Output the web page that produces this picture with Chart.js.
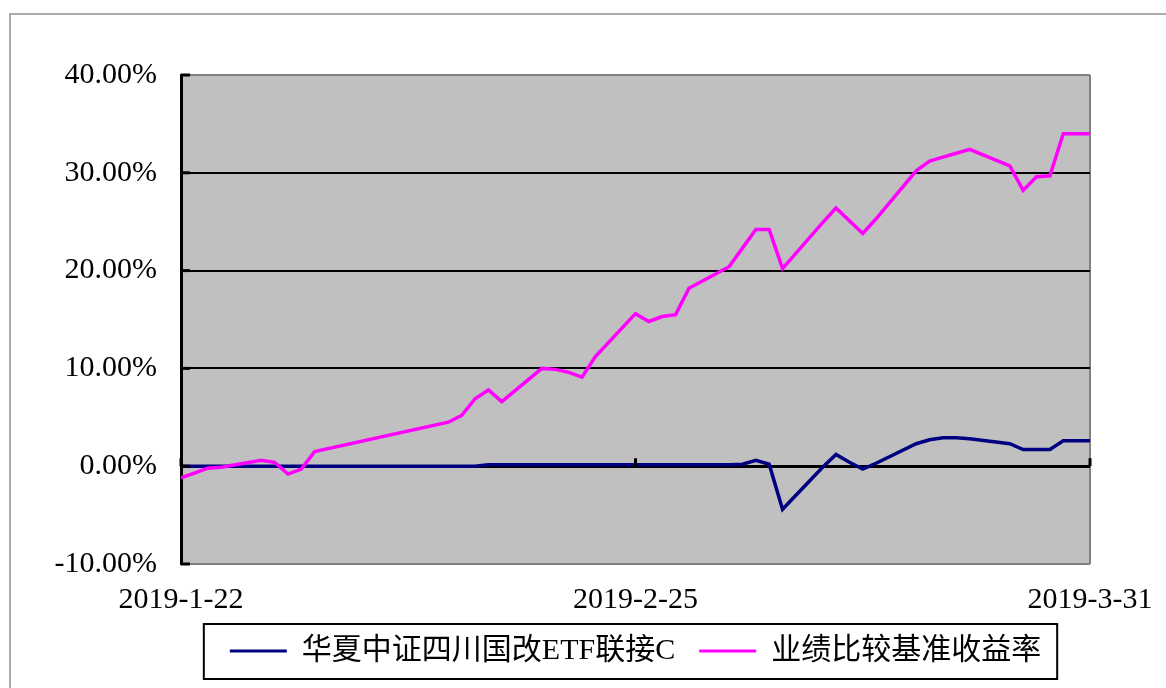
<!DOCTYPE html>
<html>
<head>
<meta charset="utf-8">
<script src="https://cdn.jsdelivr.net/npm/chart.js@4.4.1/dist/chart.umd.min.js"></script>
<style>
html,body{margin:0;padding:0;background:#fff;}
#wrap{width:1166px;height:688px;position:relative;}
</style>
</head>
<body>
<div id="wrap"><canvas id="c" width="1166" height="688"></canvas></div>
<script>
// ---- data ----
const startDate = '2019-01-22';
const endDate = '2019-03-31';
const dates = ['2019-01-22','2019-01-23','2019-01-24','2019-01-25','2019-01-28','2019-01-29','2019-01-30','2019-01-31','2019-02-01',
  '2019-02-11','2019-02-12','2019-02-13','2019-02-14','2019-02-15','2019-02-18','2019-02-19','2019-02-20','2019-02-21','2019-02-22',
  '2019-02-25','2019-02-26','2019-02-27','2019-02-28','2019-03-01','2019-03-04','2019-03-05','2019-03-06','2019-03-07','2019-03-08',
  '2019-03-11','2019-03-12','2019-03-13','2019-03-14','2019-03-15','2019-03-18','2019-03-19','2019-03-20','2019-03-21','2019-03-22',
  '2019-03-25','2019-03-26','2019-03-27','2019-03-28','2019-03-29','2019-03-31'];
const fundReturn = [0,0,0,0,0,0,0,0,0,
  0,0,0,0.15,0.15,0.15,0.15,0.15,0.15,0.15,
  0.15,0.15,0.15,0.15,0.15,0.15,0.2,0.6,0.2,-4.4,
  -0.1,1.2,0.4,-0.3,0.3,2.3,2.7,2.9,2.9,2.8,
  2.3,1.7,1.7,1.7,2.6,2.6];
const benchReturn = [-1.2,-0.7,-0.2,-0.1,0.6,0.4,-0.8,-0.3,1.5,
  4.5,5.2,6.9,7.8,6.6,10.0,9.9,9.6,9.1,11.2,
  15.6,14.8,15.3,15.5,18.2,20.4,22.3,24.2,24.2,20.2,
  24.9,26.4,25.1,23.8,25.3,30.2,31.2,31.6,32.0,32.4,
  30.7,28.2,29.6,29.7,34.0,34.0];
const seriesNames = ['华夏中证四川国改ETF联接C','业绩比较基准收益率'];
const xTickLabels = ['2019-1-22','2019-2-25','2019-3-31'];
const yTicks = [-10,0,10,20,30,40];

// ---- helpers ----
const DAY = 86400000;
const t0 = Date.parse(startDate + 'T00:00:00Z');
const dayOffset = d => Math.round((Date.parse(d + 'T00:00:00Z') - t0) / DAY);
const spanDays = dayOffset(endDate);
const toPoints = vals => dates.map((d,i) => ({x: dayOffset(d), y: vals[i]}));

const FONT = "'Liberation Serif','Times New Roman','Noto Sans CJK SC',serif";

const framePlugin = {
  id: 'frame',
  beforeDraw(chart) {
    const {ctx, chartArea: a} = chart;
    ctx.save();
    ctx.fillStyle = '#fff';
    ctx.fillRect(0, 0, chart.width, chart.height);
    // outer border (top & left visible)
    ctx.strokeStyle = '#ababab';
    ctx.lineWidth = 2;
    ctx.beginPath();
    ctx.moveTo(10, chart.height + 5);
    ctx.lineTo(10, 14);
    ctx.lineTo(chart.width + 5, 14);
    ctx.stroke();
    // plot area
    ctx.fillStyle = '#c0c0c0';
    ctx.fillRect(a.left, a.top, a.right - a.left, a.bottom - a.top);
    ctx.strokeStyle = '#808080';
    ctx.lineWidth = 2;
    ctx.beginPath();
    ctx.moveTo(a.right, a.top);
    ctx.lineTo(a.right, a.bottom);
    ctx.stroke();
    ctx.restore();
  },
  afterDatasetsDraw(chart) {
    const {ctx, chartArea: a, scales} = chart;
    ctx.save();
    ctx.strokeStyle = '#000';
    ctx.lineWidth = 3;
    // y inner ticks
    scales.y.ticks.forEach(t => {
      const y = scales.y.getPixelForValue(t.value);
      ctx.beginPath();
      ctx.moveTo(a.left, y);
      ctx.lineTo(a.left + 9, y);
      ctx.stroke();
    });
    // x ticks on zero line
    const y0 = scales.y.getPixelForValue(0);
    scales.x.ticks.forEach(t => {
      const x = scales.x.getPixelForValue(t.value);
      ctx.beginPath();
      ctx.moveTo(x, y0);
      ctx.lineTo(x, y0 - 8);
      ctx.stroke();
    });
    ctx.restore();
  },
  afterDraw(chart) {
    const lg = chart.legend;
    if (!lg || !lg.legendHitBoxes || !lg.legendHitBoxes.length) return;
    const hb = lg.legendHitBoxes;
    const first = hb[0], last = hb[hb.length - 1];
    const {ctx} = chart;
    ctx.save();
    ctx.strokeStyle = '#000';
    ctx.lineWidth = 2;
    const l = first.left - 26, r = last.left + last.width + 16;
    const tp = first.top - 12, bt = first.top + first.height + 13;
    ctx.strokeRect(l, tp, r - l, bt - tp);
    ctx.restore();
  }
};

new Chart(document.getElementById('c'), {
  type: 'line',
  data: {
    datasets: [
      {label: seriesNames[0], data: toPoints(fundReturn), borderColor: '#000080', backgroundColor: '#000080',
       borderWidth: 3.5, pointRadius: 0, tension: 0, order: 1},
      {label: seriesNames[1], data: toPoints(benchReturn), borderColor: '#ff00ff', backgroundColor: '#ff00ff',
       borderWidth: 3.5, pointRadius: 0, tension: 0, order: 0}
    ]
  },
  options: {
    responsive: false,
    animation: false,
    devicePixelRatio: 1,
    layout: {padding: {left: 10, right: 76, top: 75, bottom: 12}},
    plugins: {
      tooltip: {enabled: false},
      legend: {
        position: 'bottom',
        fullSize: false,
        labels: {
          boxWidth: 57,
          boxHeight: 3,
          padding: 24,
          color: '#000',
          font: {family: FONT, size: 30},
          generateLabels(chart) {
            return chart.data.datasets.map((ds, i) => ({
              text: ds.label, fillStyle: ds.borderColor, strokeStyle: ds.borderColor,
              lineWidth: 0, hidden: false, datasetIndex: i, fontColor: '#000'
            }));
          }
        }
      }
    },
    scales: {
      x: {
        type: 'linear',
        min: 0,
        max: spanDays,
        afterBuildTicks(scale) {
          scale.ticks = xTickLabels.map((lab, i) => ({value: i * spanDays / (xTickLabels.length - 1)}));
        },
        ticks: {
          autoSkip: false,
          maxRotation: 0,
          padding: 18,
          color: '#000',
          font: {family: FONT, size: 30},
          callback: (v, i) => xTickLabels[i]
        },
        grid: {display: false, drawTicks: false},
        border: {display: false},
        afterFit(scale) { scale.height = 48; scale.paddingLeft = 0; scale.paddingRight = 0; }
      },
      y: {
        type: 'linear',
        min: -10,
        max: 40,
        afterBuildTicks(scale) { scale.ticks = yTicks.map(v => ({value: v})); },
        ticks: {
          padding: 24,
          color: '#000',
          font: {family: FONT, size: 30},
          callback: v => v.toFixed(2) + '%'
        },
        grid: {
          drawTicks: false,
          color: ctx => (ctx.tick && (ctx.tick.value === 40 || ctx.tick.value === -10)) ? '#808080' : '#000',
          lineWidth: ctx => (ctx.tick && ctx.tick.value === 0) ? 3 : 2
        },
        border: {display: true, color: '#000', width: 3},
        afterFit(scale) { scale.width = 171; }
      }
    }
  },
  plugins: [framePlugin]
});
</script>
</body>
</html>
